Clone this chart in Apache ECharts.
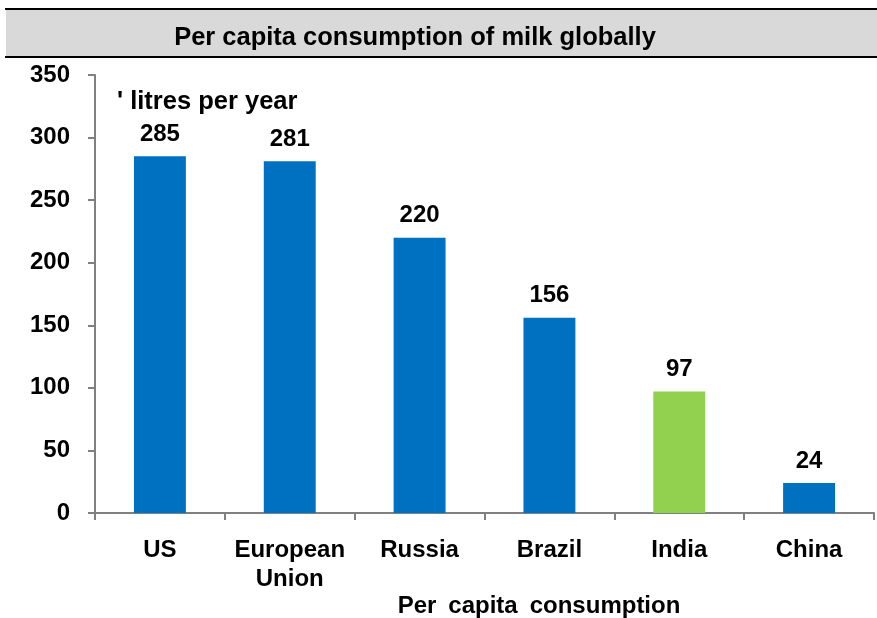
<!DOCTYPE html>
<html>
<head>
<meta charset="utf-8">
<script src="https://cdn.jsdelivr.net/npm/echarts@6/dist/echarts.min.js"></script>
<style>
  html, body { margin: 0; padding: 0; background: #fff; }
  #chart { width: 877px; height: 618px; }
</style>
</head>
<body>
<div id="chart"></div>
<script>
// Milk consumption per person, litres per year
const categories = ['US', 'European\nUnion', 'Russia', 'Brazil', 'India', 'China'];
const litres = [285, 281, 220, 156, 97, 24];
const highlighted = 'India';
const yTicks = { min: 0, max: 350, interval: 50 };

const FONT = '"Liberation Sans", Arial, sans-serif';
const BLUE = '#0070C0';
const GREEN = '#92D050';
const SP = '\u2002'; // wider word gap for the axis name

const chart = echarts.init(document.getElementById('chart'));

chart.setOption({
  animation: false,
  textStyle: { fontFamily: FONT },
  graphic: [
    { type: 'rect', shape: { x: 6, y: 9, width: 871, height: 48 }, style: { fill: '#D9D9D9' }, z: 0 },
    { type: 'line', shape: { x1: 5, y1: 9, x2: 877, y2: 9 }, style: { stroke: '#000', lineWidth: 2 }, z: 1 },
    { type: 'line', shape: { x1: 5, y1: 57, x2: 877, y2: 57 }, style: { stroke: '#000', lineWidth: 2 }, z: 1 }
  ],
  title: [
    {
      text: 'Per capita consumption of milk globally',
      left: 410, top: 20, textAlign: 'center',
      textStyle: { fontFamily: FONT, fontSize: 25.5, fontWeight: 'bold', color: '#000' }
    },
    {
      text: "' litres per year",
      left: 112, top: 84,
      textStyle: { fontFamily: FONT, fontSize: 25.5, fontWeight: 'bold', color: '#000' }
    },
    {
      text: ['Per', 'capita', 'consumption'].join(SP),
      left: 534, top: 589, textAlign: 'center',
      textStyle: { fontFamily: FONT, fontSize: 24, fontWeight: 'bold', color: '#000' }
    }
  ],
  grid: { left: 95, right: 3, top: 75, bottom: 105, containLabel: false },
  xAxis: {
    type: 'category',
    data: categories,
    axisLine: { lineStyle: { color: '#808080', width: 2 } },
    axisTick: { show: true, alignWithLabel: false, length: 7, lineStyle: { color: '#808080', width: 2 } },
    axisLabel: {
      interval: 0,
      fontFamily: FONT, fontSize: 24, fontWeight: 'bold', color: '#000',
      margin: 23, lineHeight: 29
    }
  },
  yAxis: {
    type: 'value',
    min: yTicks.min, max: yTicks.max, interval: yTicks.interval,
    splitLine: { show: false },
    axisLine: { show: true, lineStyle: { color: '#808080', width: 2 } },
    axisTick: { show: true, length: 7, lineStyle: { color: '#808080', width: 2 } },
    axisLabel: { fontFamily: FONT, fontSize: 24, fontWeight: 'bold', color: '#000', margin: 25 }
  },
  series: [{
    type: 'bar',
    barWidth: '40%',
    data: litres.map((v, i) => ({
      value: v,
      itemStyle: { color: categories[i] === highlighted ? GREEN : BLUE }
    })),
    label: {
      show: true, position: 'top', distance: 10,
      fontFamily: FONT, fontSize: 24, fontWeight: 'bold', color: '#000'
    }
  }]
});
</script>
</body>
</html>
